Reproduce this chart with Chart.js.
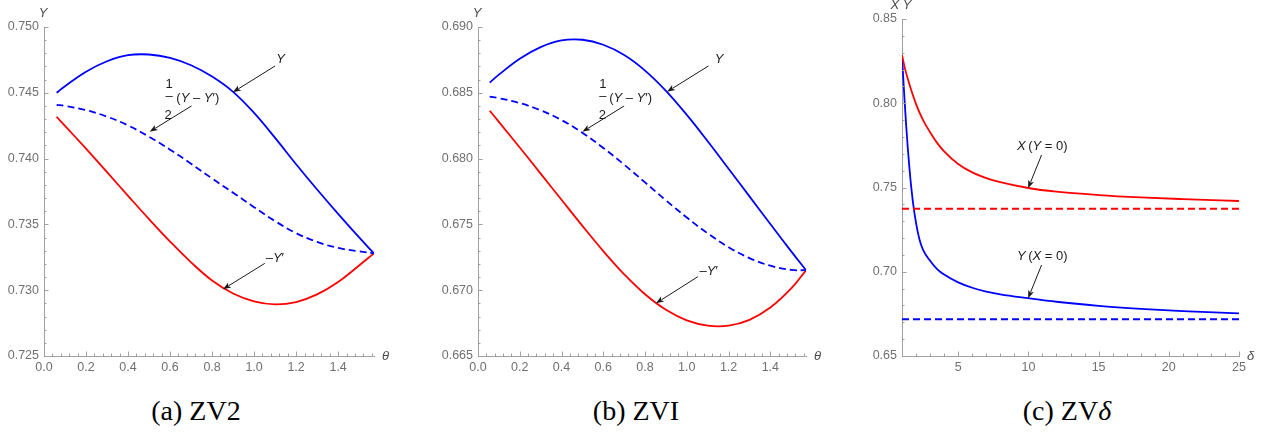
<!DOCTYPE html>
<html>
<head>
<meta charset="utf-8">
<script src="https://cdn.jsdelivr.net/npm/chart.js@4.4.1/dist/chart.umd.min.js"></script>
<style>
  body { margin: 0; background: #fff; width: 1266px; height: 441px; position: relative; overflow: hidden; }
  canvas { position: absolute; top: 0; }
  .cap { position: absolute; top: 395px; font-family: "Liberation Serif", "Times New Roman", serif; font-size: 28px;
         color: #000; white-space: nowrap; transform: translateX(-50%); }
</style>
</head>
<body>
<canvas id="chartA" width="420" height="382" style="left:0px"></canvas>
<canvas id="chartB" width="420" height="382" style="left:420px"></canvas>
<canvas id="chartC" width="426" height="382" style="left:840px"></canvas>
<div class="cap" style="left:196px">(a) ZV2</div>
<div class="cap" style="left:636px">(b) ZVI</div>
<div class="cap" style="left:1067px">(c) ZV<i>δ</i></div>
<script>
// ---- data ----
const thetaA = [0.06, 0.1, 0.2, 0.3, 0.4, 0.5, 0.6, 0.7, 0.8, 0.9, 1.0, 1.1, 1.2, 1.3, 1.4, 1.5, 1.5708];
const yA     = [0.74500, 0.74550, 0.74660, 0.74740, 0.74786, 0.74791, 0.74765, 0.74709, 0.74623, 0.74507, 0.74347, 0.74157, 0.73957, 0.73765, 0.73580, 0.73401, 0.73280];
const halfA  = [0.74409, 0.74400, 0.74368, 0.74319, 0.74252, 0.74166, 0.74068, 0.73961, 0.73849, 0.73741, 0.73631, 0.73525, 0.73434, 0.73367, 0.73321, 0.73295, 0.73280];
const negYpA = [0.74318, 0.74249, 0.74075, 0.73897, 0.73717, 0.73540, 0.73370, 0.73212, 0.73074, 0.72975, 0.72915, 0.72892, 0.72910, 0.72968, 0.73062, 0.73188, 0.73280];

const thetaB = [0.056, 0.1, 0.2, 0.3, 0.4, 0.5, 0.6, 0.7, 0.8, 0.9, 1.0, 1.1, 1.2, 1.3, 1.4, 1.5, 1.5708];
const yB     = [0.68577, 0.68638, 0.68759, 0.68847, 0.68898, 0.68903, 0.68865, 0.68787, 0.68669, 0.68515, 0.68332, 0.68132, 0.67923, 0.67713, 0.67503, 0.67295, 0.67152];
const halfB  = [0.68471, 0.68459, 0.68422, 0.68367, 0.68293, 0.68196, 0.68081, 0.67954, 0.67819, 0.67683, 0.67552, 0.67432, 0.67327, 0.67244, 0.67186, 0.67154, 0.67152];
const negYpB = [0.68364, 0.68279, 0.68084, 0.67886, 0.67687, 0.67489, 0.67297, 0.67121, 0.66969, 0.66851, 0.66771, 0.66731, 0.66731, 0.66775, 0.66868, 0.67013, 0.67152];

const deltaX = [1, 1.2, 1.5, 2, 2.5, 3, 3.5, 4, 5, 6, 7, 8, 10, 12, 15, 18, 21, 25];
const xOfY0  = [0.8286, 0.8210, 0.8120, 0.7995, 0.7900, 0.7828, 0.7765, 0.7715, 0.7640, 0.7590, 0.7556, 0.7532, 0.7497, 0.7475, 0.7455, 0.7441, 0.7431, 0.7420];
const deltaY = [1, 1.1, 1.2, 1.3, 1.4, 1.5, 1.6, 1.8, 2, 2.25, 2.5, 3, 3.5, 4, 5, 6, 7, 8, 10, 12, 15, 18, 21, 25];
const yOfX0  = [0.8286, 0.8135, 0.7995, 0.7865, 0.7748, 0.7643, 0.7550, 0.7400, 0.7290, 0.7190, 0.7130, 0.7065, 0.7016, 0.6983, 0.6937, 0.6905, 0.6882, 0.6866, 0.6843, 0.6822, 0.6798, 0.6780, 0.6766, 0.6753];
const deltaEnds = [1, 25];
const xLimit = [0.7374, 0.7374];
const yLimit = [0.6718, 0.6718];

// tick labels
const thetaTicks = [0, 0.2, 0.4, 0.6, 0.8, 1.0, 1.2, 1.4];
const yTicksA = [0.725, 0.730, 0.735, 0.740, 0.745, 0.750];
const yTicksB = [0.665, 0.670, 0.675, 0.680, 0.685, 0.690];
const deltaTicks = [5, 10, 15, 20, 25];
const yTicksC = [0.65, 0.70, 0.75, 0.80, 0.85];

const BLUE = '#0000ff', RED = '#ff0000';
const AXIS = '#a0a0a0', TICKTXT = '#707070', INK = '#1a1a1a';
const SANS = '"Liberation Sans", Arial, sans-serif';

function font(size, italic) {
    return (italic ? 'italic ' : '') + size + 'px ' + SANS;
}

// draw a row of text pieces, some italic
function drawRuns(ctx, parts, x, y, align, color) {
    let total = 0;
    const w = parts.map(p => { ctx.font = font(13, p[1]); const m = ctx.measureText(p[0]).width; total += m; return m; });
    let cx = align === 'center' ? x - total / 2 : (align === 'right' ? x - total : x);
    ctx.fillStyle = color || INK;
    ctx.textBaseline = 'middle';
    ctx.textAlign = 'left';
    parts.forEach((p, i) => { ctx.font = font(13, p[1]); ctx.fillText(p[0], cx, y); cx += w[i]; });
}

function drawArrow(ctx, x1, y1, x2, y2) {
    const ang = Math.atan2(y2 - y1, x2 - x1);
    const hl = 8, hw = 3;
    ctx.strokeStyle = INK; ctx.fillStyle = INK; ctx.lineWidth = 1;
    ctx.beginPath();
    ctx.moveTo(x1, y1);
    ctx.lineTo(x2 - Math.cos(ang) * hl * 0.8, y2 - Math.sin(ang) * hl * 0.8);
    ctx.stroke();
    ctx.beginPath();
    ctx.moveTo(x2, y2);
    ctx.lineTo(x2 - Math.cos(ang) * hl + Math.sin(ang) * hw, y2 - Math.sin(ang) * hl - Math.cos(ang) * hw);
    ctx.lineTo(x2 - Math.cos(ang) * hl * 0.75, y2 - Math.sin(ang) * hl * 0.75);
    ctx.lineTo(x2 - Math.cos(ang) * hl - Math.sin(ang) * hw, y2 - Math.sin(ang) * hl + Math.cos(ang) * hw);
    ctx.closePath();
    ctx.fill();
}

function isMult(v, step) {
    const r = v / step;
    return Math.abs(r - Math.round(r)) < 1e-6;
}

function makeDecor(o) {
    return {
        id: 'decor',
        afterDraw(chart) {
            const { ctx, chartArea: a, scales: { x, y } } = chart;
            ctx.save();
            // inward ticks, Mathematica style
            ctx.strokeStyle = AXIS; ctx.lineWidth = 1;
            ctx.beginPath();
            const nx = Math.round((x.max - o.xMinor0) / o.xMinor);
            for (let i = 0; i <= nx; i++) {
                const v = o.xMinor0 + i * o.xMinor;
                if (v > x.max + 1e-9) break;
                const px = Math.round(x.getPixelForValue(v)) + 0.5;
                const len = isMult(v, o.xMajor) ? 4.5 : 2.5;
                ctx.moveTo(px, a.bottom); ctx.lineTo(px, a.bottom - len);
            }
            const ny = Math.round((y.max - y.min) / o.yMinor);
            for (let i = 0; i <= ny; i++) {
                const v = y.min + i * o.yMinor;
                const py = Math.round(y.getPixelForValue(v)) + 0.5;
                const len = isMult(v, o.yMajor) ? 4.5 : 2.5;
                ctx.moveTo(a.left, py); ctx.lineTo(a.left + len, py);
            }
            ctx.stroke();
            // axis titles
            drawRuns(ctx, o.yTitle, a.left - 1, a.top - 14, 'center', '#4a4a4a');
            drawRuns(ctx, o.xTitle, a.right + 8, a.bottom, 'left', '#4a4a4a');
            // arrows and labels
            o.arrows.forEach(ar => drawArrow(ctx,
                x.getPixelForValue(ar.from[0]), y.getPixelForValue(ar.from[1]),
                x.getPixelForValue(ar.to[0]), y.getPixelForValue(ar.to[1])));
            o.labels.forEach(l => drawRuns(ctx, l.parts,
                x.getPixelForValue(l.at[0]), y.getPixelForValue(l.at[1]), l.align || 'center'));
            ctx.restore();
        }
    };
}

function makePanel(id, o) {
    const datasets = o.series.map(s => ({
        data: s.xs.map((v, i) => ({ x: v, y: s.ys[i] })),
        borderColor: s.color,
        borderWidth: 1.8,
        borderDash: s.dash || [],
        pointRadius: 0,
        showLine: true,
        fill: false,
        cubicInterpolationMode: o.mono ? 'monotone' : 'default',
        tension: 0.4
    }));
    const tickFont = { size: 12.5, family: SANS };
    new Chart(document.getElementById(id), {
        type: 'scatter',
        data: { datasets },
        options: {
            responsive: false,
            animation: false,
            devicePixelRatio: 1,
            layout: { padding: { top: o.padTop, right: o.padRight, left: 0, bottom: 0 } },
            plugins: { legend: { display: false }, tooltip: { enabled: false } },
            scales: {
                x: {
                    type: 'linear', min: o.xMin, max: o.xMax,
                    grid: { display: false, drawTicks: false },
                    border: { display: true, color: AXIS, width: 1 },
                    ticks: { color: TICKTXT, font: tickFont, padding: 4, autoSkip: false, maxRotation: 0,
                             callback: v => v.toFixed(o.xDec) },
                    afterBuildTicks: s => { s.ticks = o.xTicks.map(v => ({ value: v })); },
                    afterFit: s => { s.height = 26; }
                },
                y: {
                    type: 'linear', min: o.yMin, max: o.yMax,
                    grid: { display: false, drawTicks: false },
                    border: { display: true, color: AXIS, width: 1 },
                    ticks: { color: TICKTXT, font: tickFont, padding: 5, autoSkip: false,
                             callback: v => v.toFixed(o.yDec) },
                    afterBuildTicks: s => { s.ticks = o.yTicks.map(v => ({ value: v })); },
                    afterFit: s => { s.width = o.left; }
                }
            }
        },
        plugins: [makeDecor(o)]
    });
}

const DASH = [7, 4];
const fracParts = [['(', 0], ['Y', 1], [' \u2013 ', 0], ['Y', 1], ['\u2032', 0], [')', 0]];
const negYpParts = [['\u2013', 0], ['Y', 1], ['\u2032', 0]];

makePanel('chartA', {
    left: 44, padTop: 27, padRight: 46,
    xMin: 0, xMax: Math.PI / 2, yMin: 0.725, yMax: 0.750,
    xTicks: thetaTicks, yTicks: yTicksA, xDec: 1, yDec: 3,
    xMinor0: 0, xMinor: 0.04, xMajor: 0.2, yMinor: 0.001, yMajor: 0.005,
    yTitle: [['Y', 1]], xTitle: [['\u03b8', 1]],
    series: [
        { xs: thetaA, ys: yA, color: BLUE },
        { xs: thetaA, ys: halfA, color: BLUE, dash: DASH },
        { xs: thetaA, ys: negYpA, color: RED }
    ],
    arrows: [
        { from: [1.10, 0.74704], to: [0.899, 0.74504] },
        { from: [0.702, 0.74400], to: [0.503, 0.74204] },
        { from: [1.051, 0.73204], to: [0.852, 0.73007] }
    ],
    labels: [
        { at: [1.126, 0.74755], parts: [['Y', 1]] },
        { at: [0.596, 0.74567], parts: [['1', 0]] },
        { at: [0.596, 0.74470], parts: [['\u2013', 0]] },
        { at: [0.630, 0.74458], parts: fracParts, align: 'left' },
        { at: [0.591, 0.74331], parts: [['2', 0]] },
        { at: [1.099, 0.73239], parts: negYpParts }
    ]
});

makePanel('chartB', {
    left: 58, padTop: 27, padRight: 34,
    xMin: 0, xMax: Math.PI / 2, yMin: 0.665, yMax: 0.690,
    xTicks: thetaTicks, yTicks: yTicksB, xDec: 1, yDec: 3,
    xMinor0: 0, xMinor: 0.04, xMajor: 0.2, yMinor: 0.001, yMajor: 0.005,
    yTitle: [['Y', 1]], xTitle: [['\u03b8', 1]],
    series: [
        { xs: thetaB, ys: yB, color: BLUE },
        { xs: thetaB, ys: halfB, color: BLUE, dash: DASH },
        { xs: thetaB, ys: negYpB, color: RED }
    ],
    arrows: [
        { from: [1.104, 0.68704], to: [0.905, 0.68508] },
        { from: [0.700, 0.68400], to: [0.500, 0.68204] },
        { from: [1.053, 0.67103], to: [0.852, 0.66900] }
    ],
    labels: [
        { at: [1.154, 0.68755], parts: [['Y', 1]] },
        { at: [0.598, 0.68567], parts: [['1', 0]] },
        { at: [0.598, 0.68470], parts: [['\u2013', 0]] },
        { at: [0.628, 0.68458], parts: fracParts, align: 'left' },
        { at: [0.595, 0.68331], parts: [['2', 0]] },
        { at: [1.105, 0.67146], parts: negYpParts }
    ]
});

makePanel('chartC', {
    left: 62, padTop: 19, padRight: 27, mono: true,
    xMin: 1, xMax: 25, yMin: 0.65, yMax: 0.85,
    xTicks: deltaTicks, yTicks: yTicksC, xDec: 0, yDec: 2,
    xMinor0: 1, xMinor: 1, xMajor: 5, yMinor: 0.01, yMajor: 0.05,
    yTitle: [['X', 1], [' ', 0], ['Y', 1]], xTitle: [['\u03b4', 1]],
    series: [
        { xs: deltaX, ys: xOfY0, color: RED },
        { xs: deltaEnds, ys: xLimit, color: RED, dash: DASH },
        { xs: deltaY, ys: yOfX0, color: BLUE },
        { xs: deltaEnds, ys: yLimit, color: BLUE, dash: DASH }
    ],
    arrows: [
        { from: [10.94, 0.7693], to: [9.98, 0.7495] },
        { from: [10.94, 0.7040], to: [9.98, 0.6842] }
    ],
    labels: [
        { at: [10.99, 0.7742], parts: [['X', 1], ['\u2009(', 0], ['Y', 1], [' = 0)', 0]] },
        { at: [10.99, 0.7089], parts: [['Y', 1], ['\u2009(', 0], ['X', 1], [' = 0)', 0]] }
    ]
});
</script>
</body>
</html>
